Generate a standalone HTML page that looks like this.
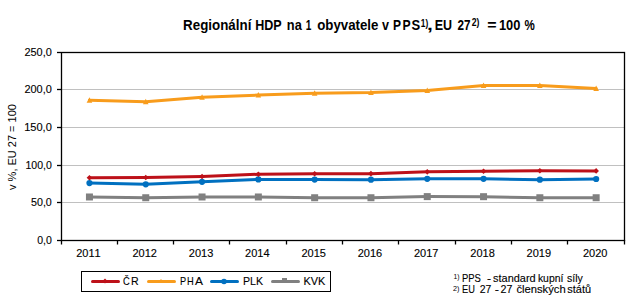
<!DOCTYPE html>
<html><head><meta charset="utf-8"><style>
html,body{margin:0;padding:0;background:#fff;width:639px;height:306px;overflow:hidden}
svg{display:block}
text{font-family:"Liberation Sans",sans-serif;fill:#000;white-space:pre;font-kerning:none}
text.r{stroke:#000;stroke-width:0.12px}
.ax{font-size:11px;stroke:#000;stroke-width:0.12px}
.title{font-size:12.5px;font-weight:bold}
.sup{font-size:8px}
.fn{font-size:11px}
.fsup{font-size:7px}
</style></head><body>
<svg width="639" height="306" viewBox="0 0 639 306">
<line x1="61" y1="89.5" x2="624" y2="89.5" stroke="#C0C0C0" stroke-width="1"/>
<line x1="61" y1="127.5" x2="624" y2="127.5" stroke="#C0C0C0" stroke-width="1"/>
<line x1="61" y1="165.5" x2="624" y2="165.5" stroke="#C0C0C0" stroke-width="1"/>
<line x1="61" y1="202.5" x2="624" y2="202.5" stroke="#C0C0C0" stroke-width="1"/>
<rect x="61.5" y="52.5" width="563" height="188" fill="none" stroke="#000" stroke-width="1.3"/>
<line x1="57" y1="52.5" x2="61" y2="52.5" stroke="#000" stroke-width="1.3"/>
<line x1="57" y1="89.5" x2="61" y2="89.5" stroke="#000" stroke-width="1.3"/>
<line x1="57" y1="127.5" x2="61" y2="127.5" stroke="#000" stroke-width="1.3"/>
<line x1="57" y1="165.5" x2="61" y2="165.5" stroke="#000" stroke-width="1.3"/>
<line x1="57" y1="202.5" x2="61" y2="202.5" stroke="#000" stroke-width="1.3"/>
<line x1="57" y1="240.5" x2="61" y2="240.5" stroke="#000" stroke-width="1.3"/>
<line x1="61.5" y1="240" x2="61.5" y2="244.5" stroke="#000" stroke-width="1.3"/>
<line x1="117.5" y1="240" x2="117.5" y2="244.5" stroke="#000" stroke-width="1.3"/>
<line x1="173.5" y1="240" x2="173.5" y2="244.5" stroke="#000" stroke-width="1.3"/>
<line x1="229.5" y1="240" x2="229.5" y2="244.5" stroke="#000" stroke-width="1.3"/>
<line x1="286.5" y1="240" x2="286.5" y2="244.5" stroke="#000" stroke-width="1.3"/>
<line x1="342.5" y1="240" x2="342.5" y2="244.5" stroke="#000" stroke-width="1.3"/>
<line x1="398.5" y1="240" x2="398.5" y2="244.5" stroke="#000" stroke-width="1.3"/>
<line x1="455.5" y1="240" x2="455.5" y2="244.5" stroke="#000" stroke-width="1.3"/>
<line x1="511.5" y1="240" x2="511.5" y2="244.5" stroke="#000" stroke-width="1.3"/>
<line x1="567.5" y1="240" x2="567.5" y2="244.5" stroke="#000" stroke-width="1.3"/>
<line x1="624.5" y1="240" x2="624.5" y2="244.5" stroke="#000" stroke-width="1.3"/>
<text class="r" x="24.45" y="56" font-size="11" font-weight="normal" textLength="27.38" lengthAdjust="spacingAndGlyphs" fill="#000">250,0</text>
<text class="r" x="24.45" y="93" font-size="11" font-weight="normal" textLength="27.38" lengthAdjust="spacingAndGlyphs" fill="#000">200,0</text>
<text class="r" x="24.16" y="131" font-size="11" font-weight="normal" textLength="27.67" lengthAdjust="spacingAndGlyphs" fill="#000">150,0</text>
<text class="r" x="25.50" y="169" font-size="11" font-weight="normal" textLength="26.31" lengthAdjust="spacingAndGlyphs" fill="#000">100,0</text>
<text class="r" x="30.97" y="206" font-size="11" font-weight="normal" textLength="20.85" lengthAdjust="spacingAndGlyphs" fill="#000">50,0</text>
<text class="r" x="37.19" y="244" font-size="11" font-weight="normal" textLength="14.62" lengthAdjust="spacingAndGlyphs" fill="#000">0,0</text>
<text x="88.45" y="257" text-anchor="middle" class="ax">2011</text>
<text x="144.75" y="257" text-anchor="middle" class="ax">2012</text>
<text x="201.05" y="257" text-anchor="middle" class="ax">2013</text>
<text x="257.35" y="257" text-anchor="middle" class="ax">2014</text>
<text x="313.65" y="257" text-anchor="middle" class="ax">2015</text>
<text x="369.95" y="257" text-anchor="middle" class="ax">2016</text>
<text x="426.25" y="257" text-anchor="middle" class="ax">2017</text>
<text x="482.55" y="257" text-anchor="middle" class="ax">2018</text>
<text x="538.85" y="257" text-anchor="middle" class="ax">2019</text>
<text x="595.15" y="257" text-anchor="middle" class="ax">2020</text>
<polyline points="89.45,196.98 145.75,197.74 202.05,196.98 258.35,196.98 314.65,197.74 370.95,197.74 427.25,196.61 483.55,196.68 539.85,197.74 596.15,197.74" fill="none" stroke="#808080" stroke-width="3" stroke-linejoin="round" stroke-linecap="round"/>
<rect x="85.95" y="193.48" width="7" height="7" fill="#808080"/>
<rect x="142.25" y="194.24" width="7" height="7" fill="#808080"/>
<rect x="198.55" y="193.48" width="7" height="7" fill="#808080"/>
<rect x="254.85" y="193.48" width="7" height="7" fill="#808080"/>
<rect x="311.15" y="194.24" width="7" height="7" fill="#808080"/>
<rect x="367.45" y="194.24" width="7" height="7" fill="#808080"/>
<rect x="423.75" y="193.11" width="7" height="7" fill="#808080"/>
<rect x="480.05" y="193.18" width="7" height="7" fill="#808080"/>
<rect x="536.35" y="194.24" width="7" height="7" fill="#808080"/>
<rect x="592.65" y="194.24" width="7" height="7" fill="#808080"/>
<polyline points="89.45,183.07 145.75,184.28 202.05,181.79 258.35,179.39 314.65,179.61 370.95,179.69 427.25,178.79 483.55,178.79 539.85,179.69 596.15,179.01" fill="none" stroke="#0070C0" stroke-width="3" stroke-linejoin="round" stroke-linecap="round"/>
<circle cx="89.45" cy="183.07" r="3.1" fill="#0070C0"/>
<circle cx="145.75" cy="184.28" r="3.1" fill="#0070C0"/>
<circle cx="202.05" cy="181.79" r="3.1" fill="#0070C0"/>
<circle cx="258.35" cy="179.39" r="3.1" fill="#0070C0"/>
<circle cx="314.65" cy="179.61" r="3.1" fill="#0070C0"/>
<circle cx="370.95" cy="179.69" r="3.1" fill="#0070C0"/>
<circle cx="427.25" cy="178.79" r="3.1" fill="#0070C0"/>
<circle cx="483.55" cy="178.79" r="3.1" fill="#0070C0"/>
<circle cx="539.85" cy="179.69" r="3.1" fill="#0070C0"/>
<circle cx="596.15" cy="179.01" r="3.1" fill="#0070C0"/>
<polyline points="89.45,177.73 145.75,177.43 202.05,176.45 258.35,174.27 314.65,173.82 370.95,173.67 427.25,171.87 483.55,171.19 539.85,170.74 596.15,170.89" fill="none" stroke="#BD1119" stroke-width="3" stroke-linejoin="round" stroke-linecap="round"/>
<path d="M89.45,174.93 L92.25,177.73 L89.45,180.53 L86.65,177.73Z" fill="#BD1119"/>
<path d="M145.75,174.63 L148.55,177.43 L145.75,180.23 L142.95,177.43Z" fill="#BD1119"/>
<path d="M202.05,173.65 L204.85,176.45 L202.05,179.25 L199.25,176.45Z" fill="#BD1119"/>
<path d="M258.35,171.47 L261.15,174.27 L258.35,177.07 L255.55,174.27Z" fill="#BD1119"/>
<path d="M314.65,171.02 L317.45,173.82 L314.65,176.62 L311.85,173.82Z" fill="#BD1119"/>
<path d="M370.95,170.87 L373.75,173.67 L370.95,176.47 L368.15,173.67Z" fill="#BD1119"/>
<path d="M427.25,169.07 L430.05,171.87 L427.25,174.67 L424.45,171.87Z" fill="#BD1119"/>
<path d="M483.55,168.39 L486.35,171.19 L483.55,173.99 L480.75,171.19Z" fill="#BD1119"/>
<path d="M539.85,167.94 L542.65,170.74 L539.85,173.54 L537.05,170.74Z" fill="#BD1119"/>
<path d="M596.15,168.09 L598.95,170.89 L596.15,173.69 L593.35,170.89Z" fill="#BD1119"/>
<polyline points="89.45,100.35 145.75,101.86 202.05,97.34 258.35,95.09 314.65,93.21 370.95,92.61 427.25,90.58 483.55,85.46 539.85,85.46 596.15,88.47" fill="none" stroke="#F89C1C" stroke-width="3" stroke-linejoin="round" stroke-linecap="round"/>
<path d="M89.45,97.35 L92.25,102.85 L86.65,102.85Z" fill="#F89C1C"/>
<path d="M145.75,98.86 L148.55,104.36 L142.95,104.36Z" fill="#F89C1C"/>
<path d="M202.05,94.34 L204.85,99.84 L199.25,99.84Z" fill="#F89C1C"/>
<path d="M258.35,92.09 L261.15,97.59 L255.55,97.59Z" fill="#F89C1C"/>
<path d="M314.65,90.21 L317.45,95.71 L311.85,95.71Z" fill="#F89C1C"/>
<path d="M370.95,89.61 L373.75,95.11 L368.15,95.11Z" fill="#F89C1C"/>
<path d="M427.25,87.58 L430.05,93.08 L424.45,93.08Z" fill="#F89C1C"/>
<path d="M483.55,82.46 L486.35,87.96 L480.75,87.96Z" fill="#F89C1C"/>
<path d="M539.85,82.46 L542.65,87.96 L537.05,87.96Z" fill="#F89C1C"/>
<path d="M596.15,85.47 L598.95,90.97 L593.35,90.97Z" fill="#F89C1C"/>
<text x="183.11" y="29.9" font-size="14" font-weight="bold" textLength="68.23" lengthAdjust="spacingAndGlyphs" fill="#000">Regionální</text>
<text x="255.26" y="29.9" font-size="14" font-weight="bold" textLength="26.47" lengthAdjust="spacingAndGlyphs" fill="#000">HDP</text>
<text x="286.85" y="29.9" font-size="14" font-weight="bold" textLength="14.96" lengthAdjust="spacingAndGlyphs" fill="#000">na</text>
<text x="305.86" y="29.9" font-size="14" font-weight="bold" textLength="5.62" lengthAdjust="spacingAndGlyphs" fill="#000">1</text>
<text x="317.18" y="29.9" font-size="14" font-weight="bold" textLength="61.27" lengthAdjust="spacingAndGlyphs" fill="#000">obyvatele</text>
<text x="382.05" y="29.9" font-size="14" font-weight="bold" textLength="7.00" lengthAdjust="spacingAndGlyphs" fill="#000">v</text>
<text x="393.00" y="29.9" font-size="14" font-weight="bold" textLength="8.01" lengthAdjust="spacingAndGlyphs" fill="#000">P</text>
<text x="402.38" y="29.9" font-size="14" font-weight="bold" textLength="8.13" lengthAdjust="spacingAndGlyphs" fill="#000">P</text>
<text x="411.42" y="29.9" font-size="14" font-weight="bold" textLength="8.68" lengthAdjust="spacingAndGlyphs" fill="#000">S</text>
<text x="426.98" y="29.9" font-size="14" font-weight="bold" textLength="5.83" lengthAdjust="spacingAndGlyphs" fill="#000">,</text>
<text x="434.66" y="29.9" font-size="14" font-weight="bold" textLength="17.40" lengthAdjust="spacingAndGlyphs" fill="#000">EU</text>
<text x="457.49" y="29.9" font-size="14" font-weight="bold" textLength="13.02" lengthAdjust="spacingAndGlyphs" fill="#000">27</text>
<text x="487.34" y="29.9" font-size="14" font-weight="bold" textLength="9.32" lengthAdjust="spacingAndGlyphs" fill="#000">=</text>
<text x="498.89" y="29.9" font-size="14" font-weight="bold" textLength="21.44" lengthAdjust="spacingAndGlyphs" fill="#000">100</text>
<text x="524.61" y="29.9" font-size="14" font-weight="bold" textLength="10.29" lengthAdjust="spacingAndGlyphs" fill="#000">%</text>
<text x="420.77" y="26.5" font-size="10" font-weight="bold" textLength="7.44" lengthAdjust="spacingAndGlyphs" fill="#000">1)</text>
<text x="471.70" y="26.3" font-size="10" font-weight="bold" textLength="7.73" lengthAdjust="spacingAndGlyphs" fill="#000">2)</text>
<text transform="translate(16,147) rotate(-90)" text-anchor="middle" font-size="11">v %, EU 27 = 100</text>
<rect x="81.5" y="271.5" width="249" height="20" fill="none" stroke="#000" stroke-width="1"/>
<line x1="92.5" y1="281.5" x2="118.5" y2="281.5" stroke="#BD1119" stroke-width="3" stroke-linecap="round"/>
<line x1="148.5" y1="281.5" x2="174.5" y2="281.5" stroke="#F89C1C" stroke-width="3" stroke-linecap="round"/>
<line x1="211.5" y1="281.5" x2="237.5" y2="281.5" stroke="#0070C0" stroke-width="3" stroke-linecap="round"/>
<line x1="272.5" y1="281.5" x2="298.5" y2="281.5" stroke="#808080" stroke-width="3" stroke-linecap="round"/>
<path d="M105,278.6 L107.4,281 L105,283.4 L102.6,281Z" fill="#BD1119"/>
<path d="M161,279 L163.5,282 L158.5,282Z" fill="#F89C1C"/>
<circle cx="224" cy="281.5" r="2.8" fill="#0070C0"/>
<rect x="282" y="278" width="5" height="5" fill="#808080"/>
<text class="r" x="122.93" y="285" font-size="11" font-weight="normal" textLength="6.73" lengthAdjust="spacingAndGlyphs" fill="#000">Č</text>
<text class="r" x="130.93" y="285" font-size="11" font-weight="normal" textLength="7.66" lengthAdjust="spacingAndGlyphs" fill="#000">R</text>
<text class="r" x="179.94" y="285" font-size="11" font-weight="normal" textLength="6.14" lengthAdjust="spacingAndGlyphs" fill="#000">P</text>
<text class="r" x="187.04" y="285" font-size="11" font-weight="normal" textLength="6.72" lengthAdjust="spacingAndGlyphs" fill="#000">H</text>
<text class="r" x="195.08" y="285" font-size="11" font-weight="normal" textLength="7.95" lengthAdjust="spacingAndGlyphs" fill="#000">A</text>
<text class="r" x="243.03" y="285" font-size="11" font-weight="normal" textLength="20.09" lengthAdjust="spacingAndGlyphs" fill="#000">PLK</text>
<text class="r" x="303.51" y="285" font-size="11" font-weight="normal" textLength="21.82" lengthAdjust="spacingAndGlyphs" fill="#000">KVK</text>
<text class="r" x="462.02" y="281.8" font-size="11" font-weight="normal" textLength="18.91" lengthAdjust="spacingAndGlyphs" fill="#000">PPS</text>
<text class="r" x="486.95" y="281.8" font-size="11" font-weight="normal" textLength="4.09" lengthAdjust="spacingAndGlyphs" fill="#000">-</text>
<text class="r" x="493.10" y="281.8" font-size="11" font-weight="normal" textLength="42.51" lengthAdjust="spacingAndGlyphs" fill="#000">standard</text>
<text class="r" x="537.90" y="281.8" font-size="11" font-weight="normal" textLength="25.55" lengthAdjust="spacingAndGlyphs" fill="#000">kupní</text>
<text class="r" x="567.01" y="281.8" font-size="11" font-weight="normal" textLength="15.81" lengthAdjust="spacingAndGlyphs" fill="#000">síly</text>
<text class="r" x="462.04" y="293.4" font-size="11" font-weight="normal" textLength="12.88" lengthAdjust="spacingAndGlyphs" fill="#000">EU</text>
<text class="r" x="479.67" y="293.4" font-size="11" font-weight="normal" textLength="11.65" lengthAdjust="spacingAndGlyphs" fill="#000">27</text>
<text class="r" x="494.84" y="293.4" font-size="11" font-weight="normal" textLength="4.23" lengthAdjust="spacingAndGlyphs" fill="#000">-</text>
<text class="r" x="500.46" y="293.4" font-size="11" font-weight="normal" textLength="11.87" lengthAdjust="spacingAndGlyphs" fill="#000">27</text>
<text class="r" x="516.42" y="293.4" font-size="11" font-weight="normal" textLength="49.31" lengthAdjust="spacingAndGlyphs" fill="#000">členských</text>
<text class="r" x="567.29" y="293.4" font-size="11" font-weight="normal" textLength="23.84" lengthAdjust="spacingAndGlyphs" fill="#000">států</text>
<text x="453.38" y="278.6" font-size="7" font-weight="normal" textLength="6.04" lengthAdjust="spacingAndGlyphs" fill="#222">1)</text>
<text x="453.04" y="290.6" font-size="7" font-weight="normal" textLength="6.41" lengthAdjust="spacingAndGlyphs" fill="#222">2)</text>
</svg>
</body></html>
